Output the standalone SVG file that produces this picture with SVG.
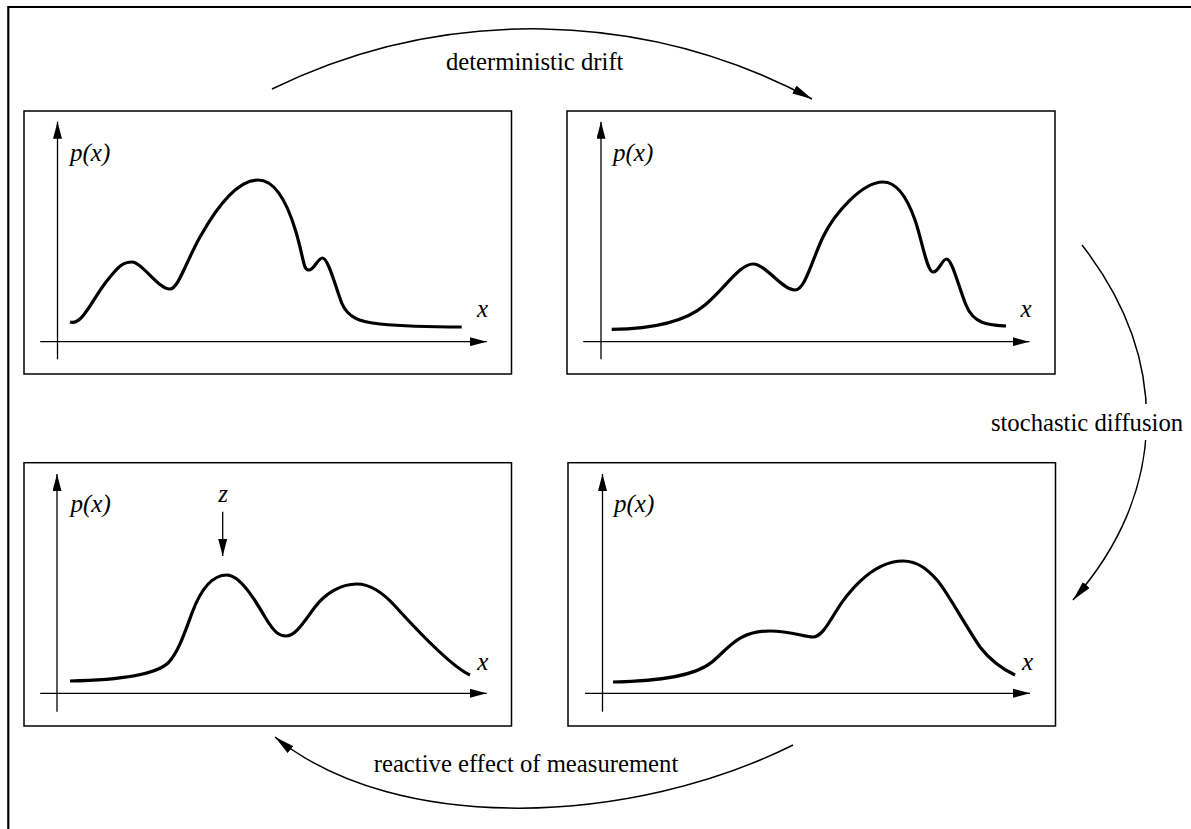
<svg xmlns="http://www.w3.org/2000/svg" width="1191" height="829" viewBox="0 0 1191 829">
<style>
.panel{fill:none;stroke:#000;stroke-width:1.5}
.axis{fill:none;stroke:#000;stroke-width:1.3}
.curve{fill:none;stroke:#000;stroke-width:3.2;stroke-linejoin:round}
.conn{fill:none;stroke:#000;stroke-width:1.5}
.lbl{font-size:24.7px;fill:#000}
.it{font-size:25px;font-style:italic;fill:#000}
</style>
<defs>
<marker id="ah" viewBox="0 0 20 9" refX="20" refY="4.5" markerWidth="20" markerHeight="9" markerUnits="userSpaceOnUse" orient="auto"><path d="M0,0 L20,4.5 L0,9 z" fill="#000"/></marker>
<marker id="axh" viewBox="0 0 17 9" refX="17" refY="4.5" markerWidth="17" markerHeight="9" markerUnits="userSpaceOnUse" orient="auto"><path d="M0,0 L17,4.5 L0,9 z" fill="#000"/></marker>
<mask id="gap" maskUnits="userSpaceOnUse" x="0" y="0" width="1191" height="829"><rect x="0" y="0" width="1191" height="829" fill="#fff"/><rect x="1128" y="404" width="34" height="36" fill="#000"/></mask>
</defs>
<rect width="1191" height="829" fill="#fff"/>
<path d="M8.3,829 V7 H1191" fill="none" stroke="#000" stroke-width="2.2"/>
<g font-family="Liberation Serif, Times New Roman, serif">

<g id="panel-drift-before">
<rect class="panel" x="24" y="111" width="487.5" height="263"/>
<line class="axis" x1="57.5" y1="359.3" x2="57.5" y2="121.7" marker-end="url(#axh)"/>
<line class="axis" x1="40.2" y1="341.7" x2="486.8" y2="341.7" marker-end="url(#axh)"/>
<text class="it" x="70" y="161">p(x)</text>
<text class="it" x="477" y="316.7">x</text>
<path class="curve" d="M70,322 C82,326 92,300 106,282 S124,262 132,262 C142,262 158,289 170,289 C178,289 186,262 200,237 S235,180 258,180 C276,180 288,205 296,232 S303,270 309,270 C314,270 318,258 322.5,258 C328,258 335,285 341.7,303 C348,318 360,322 380,324 C410,327 440,327 461.7,327"/>
</g>

<g id="panel-drift-after">
<rect class="panel" x="567" y="111" width="488" height="263"/>
<line class="axis" x1="601" y1="359.3" x2="601" y2="121.7" marker-end="url(#axh)"/>
<line class="axis" x1="583.2" y1="341.7" x2="1029.5" y2="341.7" marker-end="url(#axh)"/>
<text class="it" x="613" y="161">p(x)</text>
<text class="it" x="1020.5" y="316.7">x</text>
<path class="curve" d="M611.7,329.3 C650,329 685,322 705,305 S740,264 753,264 C766,264 782,290 795,290 C805,290 812,260 823,237 S862,182 883,182 C898,182 908,200 915,220 S927,272 933,272 C939,272 942,259 946.5,259 C952,259 958,285 966,305 S990,325 1006,326"/>
</g>

<g id="panel-diffused">
<rect class="panel" x="568" y="462.7" width="487.5" height="263.3"/>
<line class="axis" x1="602.5" y1="711.7" x2="602.5" y2="474" marker-end="url(#axh)"/>
<line class="axis" x1="585" y1="693.3" x2="1030" y2="693.3" marker-end="url(#axh)"/>
<text class="it" x="614" y="512">p(x)</text>
<text class="it" x="1022" y="670">x</text>
<path class="curve" d="M613,682 C660,681 695,676 712,662 S738,631 770,631 C790,631 805,637 813,637 C820,637 826,628 835,613 S870,561 903,561 C918,561 928,570 937,580 S962,620 980,647 C990,660 1000,668 1015,675"/>
</g>

<g id="panel-measured">
<rect class="panel" x="24" y="462.7" width="487.5" height="263.3"/>
<line class="axis" x1="57" y1="711.7" x2="57" y2="474" marker-end="url(#axh)"/>
<line class="axis" x1="40.2" y1="693.3" x2="486.8" y2="693.3" marker-end="url(#axh)"/>
<text class="it" x="70.5" y="512">p(x)</text>
<text class="it" x="477.2" y="670">x</text>
<text class="it" x="223" y="501.7" text-anchor="middle">z</text>
<line class="axis" x1="222.7" y1="511.7" x2="222.7" y2="556" marker-end="url(#axh)"/>
<path class="curve" d="M70,681 C120,680 155,675 168,663 C178,653 185,632 192,613 S210,575 227,575 C240,575 255,600 265,617 S280,636 286,636 C296,636 305,620 315,607 S340,584 357,584 C372,584 385,595 395,606 S450,666 470,675"/>
</g>

<g id="connectors">
<path class="conn" d="M272,89 A593,593 0 0 1 812,99" marker-end="url(#ah)"/>
<path class="conn" d="M1082,245 C1172,361 1167,494 1073,600" mask="url(#gap)" marker-end="url(#ah)"/>
<path class="conn" d="M793,745 C633,825 397,836 275,737" marker-end="url(#ah)"/>
<text class="lbl" x="534.7" y="70" text-anchor="middle">deterministic drift</text>
<text class="lbl" x="1087" y="431" text-anchor="middle">stochastic diffusion</text>
<text class="lbl" x="526" y="772" text-anchor="middle">reactive effect of measurement</text>
</g>
</g>
</svg>
